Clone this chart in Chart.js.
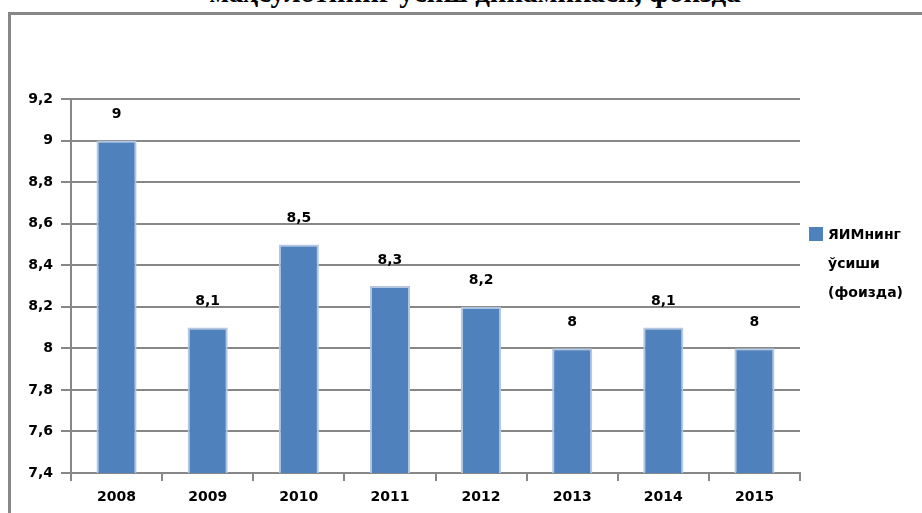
<!DOCTYPE html>
<html>
<head>
<meta charset="utf-8">
<script src="https://cdn.jsdelivr.net/npm/chart.js@4"></script>
<style>
  html, body { margin: 0; padding: 0; background: #fff; }
  #wrap { position: relative; width: 922px; height: 513px; overflow: hidden; background: #fff; }
  #frame { position: absolute; left: 8px; top: 12px; width: 940px; height: 560px;
           border-left: 3px solid #878787; border-top: 3px solid #878787; box-sizing: border-box; }
  #title { position: absolute; left: 0; width: 950px; top: -22px; text-align: center;
           font: bold 29px "Liberation Serif", serif; line-height: 28px; color: #000; white-space: nowrap; }
  #chart { position: absolute; left: 0; top: 0; }
  #legend { position: absolute; left: 809px; top: 220px; font: bold 14px "DejaVu Sans", sans-serif; color: #000; }
  #legend .sw { position: absolute; left: 0; top: 7px; width: 14px; height: 14px; background: #4F81BD; }
  #legend .tx { position: absolute; left: 19px; top: 0; line-height: 29px; white-space: nowrap; }
</style>
</head>
<body>
<div id="wrap">
  <div id="title">маҳсулотнинг ўсиш динамикаси, фоизда</div>
  <div id="frame"></div>
  <canvas id="chart" width="922" height="513"></canvas>
  <div id="legend"><div class="sw"></div><div class="tx">ЯИМнинг<br>ўсиши<br>(фоизда)</div></div>
</div>
<script>
const years = ['2008', '2009', '2010', '2011', '2012', '2013', '2014', '2015'];
const growth = [9, 8.1, 8.5, 8.3, 8.2, 8, 8.1, 8];
const yTickLabels = ['7,4', '7,6', '7,8', '8', '8,2', '8,4', '8,6', '8,8', '9', '9,2'];
const seriesName = 'ЯИМнинг ўсиши (фоизда)';

const fontSpec = { family: '"DejaVu Sans", sans-serif', size: 14, weight: 'bold' };

const labelPlugin = {
  id: 'barLabels',
  afterDatasetsDraw(chart) {
    const ctx = chart.ctx;
    const meta = chart.getDatasetMeta(0);
    ctx.save();
    ctx.font = 'bold 14px "DejaVu Sans", sans-serif';
    ctx.fillStyle = '#000';
    ctx.textAlign = 'center';
    ctx.textBaseline = 'middle';
    meta.data.forEach((bar, i) => {
      const v = chart.data.datasets[0].data[i];
      ctx.fillText(String(v).replace('.', ','), bar.x, bar.y - 26);
    });
    ctx.restore();
  }
};

new Chart(document.getElementById('chart'), {
  type: 'bar',
  data: {
    labels: years,
    datasets: [{
      label: seriesName,
      data: growth,
      backgroundColor: '#4F81BD',
      borderColor: '#B3C6E2',
      borderWidth: { left: 2, right: 2, top: 2, bottom: 0 },
      borderSkipped: false,
      barPercentage: 0.44,
      categoryPercentage: 1.0
    }]
  },
  options: {
    responsive: false,
    animation: false,
    devicePixelRatio: 1,
    layout: { padding: { left: 0, right: 122, top: 99, bottom: 0 } },
    plugins: { legend: { display: false }, title: { display: false }, tooltip: { enabled: false } },
    scales: {
      x: {
        grid: { display: true, drawOnChartArea: false, drawTicks: true, tickLength: 8,
                color: '#878787', lineWidth: 2, offset: true },
        border: { display: true, color: '#878787', width: 2 },
        ticks: { color: '#000', font: fontSpec, padding: 8, maxRotation: 0 },
        afterFit(scale) { scale.height = 40; }
      },
      y: {
        min: 7.4, max: 9.2,
        grid: { color: '#878787', lineWidth: 2, tickLength: 10, drawTicks: true },
        border: { display: true, color: '#878787', width: 2 },
        ticks: { stepSize: 0.2, color: '#000', font: fontSpec, padding: 8,
                 callback: (v, i) => yTickLabels[i] },
        afterFit(scale) { scale.width = 71; }
      }
    }
  },
  plugins: [labelPlugin]
});
</script>
</body>
</html>
